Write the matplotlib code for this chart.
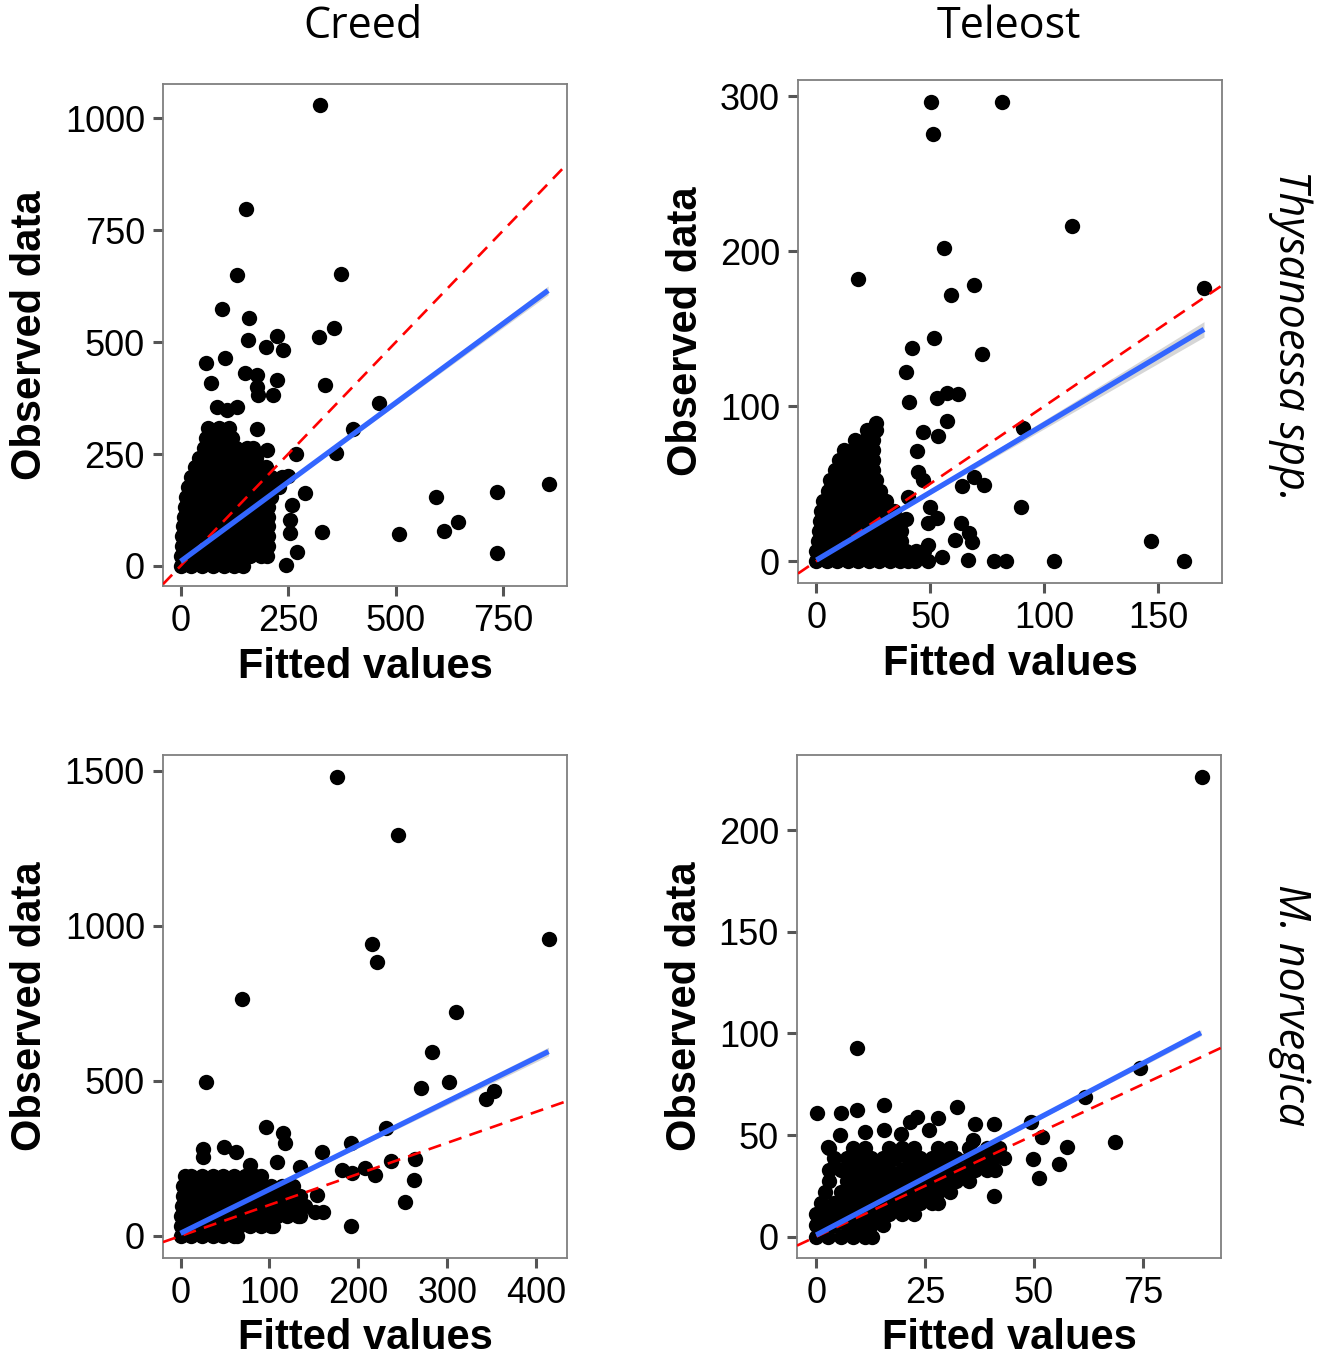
import numpy as np
import matplotlib.pyplot as plt

plt.rcParams['font.family'] = ['Liberation Sans', 'DejaVu Sans']

W, H = 1332, 1360

col_titles = ['Creed', 'Teleost']
row_titles = ['Thysanoessa spp.', 'M. norvegica']

# ---------------- Creed / Thysanoessa spp. ----------------
ct_out_fit = [324, 152, 132, 373, 95, 160, 357, 321, 157, 225, 198, 239, 103, 58, 150, 177,
              70, 225, 336, 177, 179, 214, 84, 132, 107, 462, 177, 400, 360, 268, 200, 289,
              250, 594, 736, 857, 644, 611, 508, 328, 736, 258, 254, 254, 270, 246, 200]
ct_out_obs = [1030, 797, 650, 652, 574, 553, 532, 512, 505, 514, 490, 482, 465, 453, 430, 427,
              409, 415, 404, 400, 382, 382, 356, 356, 348, 363, 305, 307, 253, 249, 259, 162,
              200, 155, 164, 183, 97, 78, 71, 75, 28, 136, 103, 73, 32, 2, 192]
# dense cloud, one row of fitted values per observed level
ct_cloud_obs = [0, 22, 44, 66, 88, 110, 132, 154, 176, 198, 220, 242, 264, 286, 308]
ct_cloud_fit = [
    [0, 25, 50, 75, 100, 125, 145],
    [0, 12, 37, 62, 87, 112, 137, 162, 187, 200],
    [2, 27, 52, 77, 102, 127, 152, 177, 202],
    [3, 15, 40, 65, 90, 115, 140, 165, 190, 203],
    [5, 30, 55, 80, 105, 130, 155, 180, 203],
    [7, 19, 44, 69, 94, 119, 144, 169, 194, 203],
    [10, 35, 60, 85, 110, 135, 160, 185, 203],
    [13, 26, 51, 76, 101, 126, 151, 176, 201, 210],
    [17, 42, 67, 92, 117, 142, 167, 192, 217, 228],
    [24, 36, 61, 86, 111, 136, 161, 186, 211, 236],
    [34, 59, 84, 109, 134, 159, 184, 198],
    [43, 56, 81, 106, 131, 156, 176],
    [54, 79, 104, 129, 154, 168],
    [58, 70, 95, 120],
    [63, 88, 113],
]
ct_fit = (10, 0.709, 854)          # intercept, slope, max fitted
ct_band_x = [0, 200, 854]
ct_band_se = [4, 2, 10]

# ---------------- Teleost / Thysanoessa spp. ----------------
tt_out_fit = [50.2, 81.2, 51, 112.2, 55.9, 18.3, 69, 170, 58.9, 51.7, 41.7, 72.7, 39.1, 40.6,
              52.7, 57.1, 61.9, 57.1, 46.8, 53.4, 90.7, 43.9, 44.4, 46.8, 63.7, 69.2, 73.5,
              40.3, 49.8, 89.6, 39.4, 49, 52.7, 63.4, 67, 68.4, 60.7, 49, 146.7, 66.6, 77.9,
              83, 104.3, 161.3, 54.9, 49, 43.2]
tt_out_obs = [296.5, 296.5, 275.7, 216.5, 202, 182, 178, 176, 171.7, 143.7, 137.3, 133.4,
              122.2, 102.8, 105, 108.2, 108, 90.6, 83, 80.9, 86, 71.2, 57.7, 52.3, 48.6, 54.4,
              49, 41.5, 35, 35, 27.1, 24.3, 27.5, 24.3, 17.9, 12.5, 13.6, 10.3, 12.9, 0.6, 0,
              0, 0, 0, 2.8, 0, 0]
tt_cloud_obs = [0, 6.5, 13, 19.5, 26, 32.5, 39, 45.5, 52, 58.5, 65, 71.5, 78, 84.5, 89]
tt_cloud_fit = [
    [0, 4.6, 9.2, 13.8, 18.4, 23, 27.6, 32.2, 36.8, 40],
    [0, 2.3, 6.9, 11.5, 16.1, 20.7, 25.3, 29.9, 34.5, 39.1, 43.7, 47],
    [0.5, 5, 9.6, 14.2, 18.8, 23.4, 28, 32.6, 37],
    [1, 3.3, 7.9, 12.5, 17.1, 21.7, 26.3, 30.9, 35.5, 37],
    [1.5, 6, 10.6, 15.2, 19.8, 24.4, 29, 33.6, 37],
    [2, 4.3, 8.9, 13.5, 18.1, 22.7, 27.3, 31.9, 34],
    [3, 7.5, 12.1, 16.7, 21.3, 25.9, 30.5],
    [5, 9.6, 14.2, 18.8, 23.4, 28],
    [6, 8, 12.6, 17.2, 21.8, 26],
    [8, 12.5, 17.1, 21.7, 25],
    [10, 14.4, 19, 23.6, 25],
    [12, 16.5, 21, 25],
    [17, 21.5, 25],
    [22, 26],
    [26],
]
tt_fit = (0.6, 0.876, 170)
tt_band_x = [0, 30, 170]
tt_band_se = [1, 0.6, 5]

# ---------------- Creed / M. norvegica ----------------
cm_out_fit = [175.7, 244.3, 215.8, 221.4, 414.9, 68.8, 309.9, 282.5, 28.7, 302.4, 270.5, 353,
              343.3, 231, 96.2, 115, 117.5, 191.4, 48.9, 62.4, 25, 25, 158.8, 78.2, 108.9,
              236.4, 263.8, 207.5, 218.8, 181.3, 192.6, 263, 252.5, 191.4, 153.2, 160.6, 151,
              134.4]
cm_out_obs = [1480, 1292, 941, 884, 956, 763, 721, 594, 495, 497, 476, 468, 440, 347, 352,
              331, 299, 301, 288, 272, 279, 256, 272, 229, 239, 243, 247, 218, 197, 213, 202,
              180, 110.6, 32, 132, 78, 78, 223]
cm_cloud_obs = [0, 32, 64, 96, 128, 160, 192]
cm_cloud_fit = [
    [0, 12, 24, 36, 48, 60, 63],
    [0, 6, 18, 30, 42, 54, 66, 78, 90, 102, 104],
    [0, 12, 24, 36, 48, 60, 72, 84, 96, 108, 120, 132, 134],
    [2, 6, 18, 30, 42, 54, 66, 78, 90, 102, 114, 126, 138, 140],
    [3, 12, 24, 36, 48, 60, 72, 84, 96, 108, 120, 132, 134],
    [3, 6, 18, 30, 42, 54, 66, 78, 90, 102, 114, 126],
    [5, 12, 24, 36, 48, 60, 72, 84, 90],
]
cm_fit = (8.6, 1.415, 414)
cm_band_x = [0, 60, 414]
cm_band_se = [3, 2, 14]

# ---------------- Teleost / M. norvegica ----------------
tm_out_fit = [88.5, 9.3, 0.3, 5.7, 9.3, 15.6, 23.1, 21.6, 28, 32.4, 5.4, 11.1, 15.6, 19.5,
              25.9, 36.5, 40.8, 49.2, 51.8, 68.6, 57.5, 61.7, 74.2, 49.8, 55.8, 51.2, 40.8,
              36.1, 2.8]
tm_out_obs = [226, 93, 61, 61, 62.3, 65, 59, 56.6, 58.2, 63.6, 50, 51.3, 52.5, 50.5, 52.5,
              55.4, 55.4, 56.6, 48.9, 46.7, 44.3, 68.9, 82.8, 38, 35.8, 29, 20, 47.6, 44.3]
tm_cloud_obs = [0, 5.5, 11, 16.5, 22, 27.5, 33, 38.5, 43.5]
tm_cloud_fit = [
    [0, 2.8, 5.6, 8.4, 11.2, 12.7],
    [0, 1.4, 4.2, 7, 9.8, 12.6, 15.4],
    [0, 2.8, 5.6, 8.4, 11.2, 14, 16.8, 19.6, 22.4],
    [1, 4.2, 7, 9.8, 12.6, 15.4, 18.2, 21, 23.8, 26.6, 28],
    [2, 5.6, 8.4, 11.2, 14, 16.8, 19.6, 22.4, 25.2, 28, 30.8],
    [3, 7, 9.8, 12.6, 15.4, 18.2, 21, 23.8, 26.6, 29.4, 32.2, 35],
    [3, 5.6, 8.4, 11.2, 14, 16.8, 19.6, 22.4, 25.2, 28, 30.8, 33.6, 36.4, 39.2, 41],
    [4, 7, 9.8, 12.6, 15.4, 18.2, 21, 23.8, 26.6, 29.4, 32.2, 35, 37.8, 40.6, 43],
    [3, 8.4, 11.2, 16.8, 19.6, 22.4, 28, 30.8, 35, 39.2, 42],
]
tm_fit = (0.8, 1.127, 88.3)
tm_band_x = [0, 10, 88.3]
tm_band_se = [0.4, 0.3, 1.5]

ct_ticks = ([0, 250, 500, 750], [0, 250, 500, 750, 1000])
tt_ticks = ([0, 50, 100, 150], [0, 100, 200, 300])
cm_ticks = ([0, 100, 200, 300, 400], [0, 500, 1000, 1500])
tm_ticks = ([0, 25, 50, 75], [0, 50, 100, 150, 200])


def fig_box(l, t, r, b):
    return [l / W, 1 - b / H, (r - l) / W, (b - t) / H]


def draw(ax, out_fit, out_obs, cloud_obs, cloud_fit, fit, band_x, band_se, ticks, xlim, ylim):
    xs = list(out_fit)
    ys = list(out_obs)
    for yv, row in zip(cloud_obs, cloud_fit):
        xs += row
        ys += [yv] * len(row)
    ax.scatter(xs, ys, s=122, c='black', linewidths=0, zorder=2)
    ax.axline((0, 0), slope=1, color='red', lw=1.9, ls=(0, (5, 3.2)), zorder=3)
    b0, b1, xmax = fit
    bx = np.array(band_x, dtype=float)
    by = b0 + b1 * bx
    se = np.array(band_se, dtype=float)
    ax.fill_between(bx, by - se, by + se, color='#999999', alpha=0.4, lw=0, zorder=4)
    fx = np.array([0, xmax])
    ax.plot(fx, b0 + b1 * fx, color='#3366FF', lw=3.8, zorder=5, solid_capstyle='butt')
    ax.set_xticks(ticks[0])
    ax.set_yticks(ticks[1])
    ax.set_xlim(*xlim)
    ax.set_ylim(*ylim)
    for sp in ax.spines.values():
        sp.set_color('#7f7f7f')
        sp.set_linewidth(1.3)
    ax.tick_params(length=7, width=2.2, color='#555555', labelsize=26, pad=6,
                   labelcolor='black')


fig = plt.figure(figsize=(W / 100, H / 100), dpi=100)

ax1 = fig.add_axes(fig_box(163, 84, 567, 586))
draw(ax1, ct_out_fit, ct_out_obs, ct_cloud_obs, ct_cloud_fit, ct_fit, ct_band_x, ct_band_se,
     ct_ticks, (-41, 898), (-45, 1077))
ax2 = fig.add_axes(fig_box(798, 80, 1222, 583))
draw(ax2, tt_out_fit, tt_out_obs, tt_cloud_obs, tt_cloud_fit, tt_fit, tt_band_x, tt_band_se,
     tt_ticks, (-8.1, 177.9), (-14.2, 310.5))
ax3 = fig.add_axes(fig_box(163, 755, 567, 1258))
draw(ax3, cm_out_fit, cm_out_obs, cm_cloud_obs, cm_cloud_fit, cm_fit, cm_band_x, cm_band_se,
     cm_ticks, (-19.7, 434.8), (-71, 1550))
ax4 = fig.add_axes(fig_box(797, 755, 1221, 1258))
draw(ax4, tm_out_fit, tm_out_obs, tm_cloud_obs, tm_cloud_fit, tm_fit, tm_band_x, tm_band_se,
     tm_ticks, (-4.4, 92.9), (-10.5, 237))


def ftext(x, y, s, **kw):
    fig.text(x / W, 1 - y / H, s, ha='center', va='center', **kw)


# axis labels
for x, y in [(30, 335), (686, 331), (30, 1006), (685, 1006)]:
    ftext(x, y, 'Observed data', rotation=90, fontsize=30, fontweight='bold')
for x, y in [(365, 667), (1010, 664), (365, 1338), (1009, 1338)]:
    ftext(x, y, 'Fitted values', fontsize=30, fontweight='bold')

# facet titles
ftext(363, 27, col_titles[0], fontsize=31, family='Open Sans')
ftext(1009, 27, col_titles[1], fontsize=31, family='Open Sans')
ftext(1290, 335, row_titles[0], fontsize=31, family='Open Sans', style='italic', rotation=270)
ftext(1290, 1005, row_titles[1], fontsize=31, family='Open Sans', style='italic', rotation=270)

fig.savefig('out.png', dpi=100)
